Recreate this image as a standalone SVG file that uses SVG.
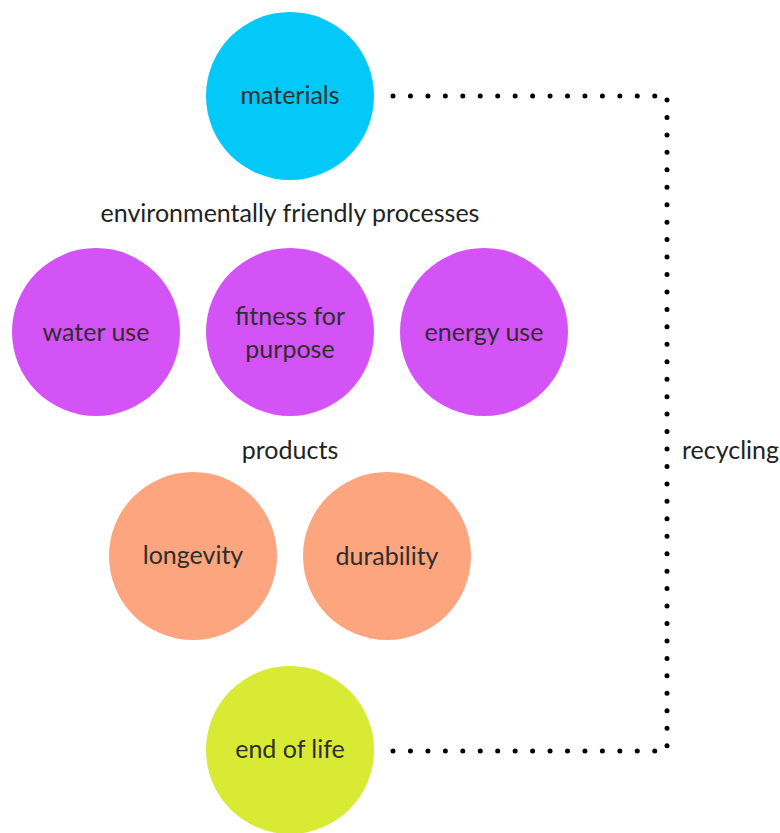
<svg xmlns="http://www.w3.org/2000/svg" width="780" height="833" viewBox="0 0 780 833">
<style>
.lbl{font-family:Lato,"Liberation Sans",sans-serif;font-size:25px;fill:#2e2e2e;text-anchor:middle}
.hdr{font-family:Lato,"Liberation Sans",sans-serif;font-size:25px;fill:#222;text-anchor:middle}
.dots{fill:none;stroke:#000;stroke-width:5;stroke-linecap:round;stroke-dasharray:0 17.45}
.cyan{fill:#03C9F9}
.purple{fill:#D453F7}
.salmon{fill:#FCA57E}
.lime{fill:#D8EA34}
</style>
<rect width="780" height="833" fill="#fff"/>
<g id="connectors">
<path class="dots" d="M393,96 H656"/>
<path class="dots" d="M667,100 V748"/>
<path class="dots" d="M393,751 H656"/>
</g>
<g id="materials"><circle class="cyan" cx="290" cy="96" r="84"/><text class="lbl" x="290" y="104">materials</text></g>
<g id="header-processes"><text class="hdr" x="290" y="222">environmentally friendly processes</text></g>
<g id="water-use"><circle class="purple" cx="96" cy="332" r="84"/><text class="lbl" x="96" y="341">water use</text></g>
<g id="fitness"><circle class="purple" cx="290" cy="332" r="84"/><text class="lbl" x="290" y="325">fitness for</text><text class="lbl" x="290" y="358">purpose</text></g>
<g id="energy-use"><circle class="purple" cx="484" cy="332" r="84"/><text class="lbl" x="484" y="341">energy use</text></g>
<g id="header-products"><text class="hdr" x="290" y="459">products</text></g>
<g id="longevity"><circle class="salmon" cx="193" cy="556" r="84"/><text class="lbl" x="193" y="564">longevity</text></g>
<g id="durability"><circle class="salmon" cx="387" cy="556" r="84"/><text class="lbl" x="387" y="565">durability</text></g>
<g id="end-of-life"><circle class="lime" cx="290" cy="750" r="84"/><text class="lbl" x="290" y="758">end of life</text></g>
<g id="recycling"><text class="hdr" x="682" y="459" style="text-anchor:start">recycling</text></g>
</svg>
